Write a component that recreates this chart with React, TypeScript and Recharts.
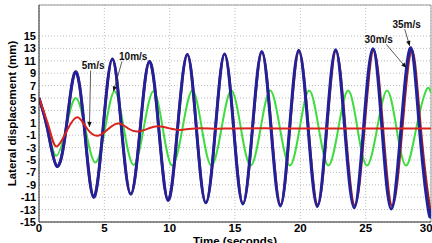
import React from 'react';
import { LineChart, Line, XAxis, YAxis, CartesianGrid, ReferenceLine, ReferenceDot } from 'recharts';

// 5 m/s (damped, red)
const t5 = [0, 0.8, 1.36, 2.2, 2.96, 3.7, 4.5, 5.3, 6.1, 6.9, 7.6, 8.4, 9.1, 10.0, 10.8, 12.0, 13.5, 15.0, 18.0, 21.0, 24.0, 27.0, 30.0];
const v5 = [5, 0, -2.8, 0, 1.9, 0, -1.1, 0, 0.9, 0, -0.4, 0.1, 0.45, 0.1, -0.15, 0.1, 0.05, 0.1, 0.1, 0.1, 0.1, 0.1, 0.1];

// 10 m/s (green)
const t10 = [0, 0.7, 1.3, 2.05, 2.8, 3.55, 4.3, 5.05, 5.78, 6.5, 7.25, 8.0, 8.76, 9.48, 10.2, 10.97, 11.74, 12.47, 13.2, 13.96, 14.72, 15.46, 16.2, 16.95, 17.7, 18.45, 19.2, 19.94, 20.68, 21.42, 22.15, 22.9, 23.66, 24.38, 25.1, 25.87, 26.64, 27.37, 28.1, 28.86, 29.62, 30];
const v10 = [5, 0, -4.3, 0, 5.0, 0, -5.4, 0, 6.1, 0, -5.8, 0, 6.1, 0, -5.9, 0, 6.2, 0, -5.9, 0, 6.2, 0, -5.9, 0, 6.2, 0, -5.9, 0, 6.2, 0, -5.9, 0, 6.2, 0, -5.9, 0, 6.2, 0, -5.9, 0, 6.2, 5.8];

// 30 m/s (dark red, mostly hidden under the 35 m/s curve)
const t30 = [0, 0.65, 1.36, 2.07, 2.78, 3.48, 4.18, 4.9, 5.62, 6.32, 7.03, 7.74, 8.45, 9.17, 9.88, 10.6, 11.35, 12.05, 12.77, 13.5, 14.2, 14.91, 15.61, 16.34, 17.06, 17.78, 18.49, 19.19, 19.9, 20.62, 21.33, 22.03, 22.73, 23.44, 24.17, 24.89, 25.61, 26.32, 27.03, 27.79, 28.53, 29.21, 29.9, 30];
const v30 = [5, 0, -6.0, 0, 9.2, 0, -11.0, 0, 11.3, 0, -10.5, 0, 10.9, 0, -11.5, 0, 12.0, 0, -11.9, 0, 12.1, 0, -12.0, 0, 12.4, 0, -12.2, 0, 12.5, 0, -12.2, 0, 12.6, 0, -12.3, 0, 12.7, 0, -12.4, 0, 12.8, 0, -12.6, -12.55];

// 35 m/s (blue)
const t35 = [0, 0.65, 1.36, 2.07, 2.78, 3.48, 4.18, 4.9, 5.62, 6.32, 7.03, 7.74, 8.45, 9.17, 9.88, 10.6, 11.35, 12.05, 12.77, 13.5, 14.2, 14.9, 15.6, 16.33, 17.05, 17.76, 18.47, 19.17, 19.88, 20.6, 21.3, 22.0, 22.7, 23.4, 24.12, 24.83, 25.55, 26.25, 26.95, 27.7, 28.45, 29.12, 29.8, 30];
const v35 = [5, 0, -6.0, 0, 9.2, 0, -11.0, 0, 11.3, 0, -10.5, 0, 10.9, 0, -11.5, 0, 12.0, 0, -11.9, 0, 12.1, 0, -12.1, 0, 12.5, 0, -12.4, 0, 12.7, 0, -12.5, 0, 12.8, 0, -12.7, 0, 12.95, 0, -12.9, 0, 13.1, 0, -13.1, -12.9];

const xTicks = [0, 5, 10, 15, 20, 25, 30];
const yTicks = [-15, -13, -11, -9, -7, -5, -3, -1, 1, 3, 5, 7, 9, 11, 13, 15];

// annotations (data coordinates)
const annText = ['5m/s', '10m/s', '30m/s', '35m/s'];
const annTextT = [4.14, 7.21, 26.0, 28.13];
const annTextV = [10.24, 11.7, 14.46, 16.8];
const annFromT = [3.95, 6.35, 26.58, 27.99];
const annFromV = [9.43, 10.9, 13.65, 16.1];
const annToT = [3.86, 5.7, 28.1, 28.37];
const annToV = [0.34, 6.07, 9.87, 13.4];

const toData = (t: number[], v: number[]) => t.map((x, i) => ({ t: x, v: v[i] }));
const d5 = toData(t5, v5);
const d10 = toData(t10, v10);
const d30 = toData(t30, v30);
const d35 = toData(t35, v35);

const ArrowShape = (p: any) => {
  const { x1, y1, x2, y2 } = p;
  if ([x1, y1, x2, y2].some((n) => typeof n !== 'number' || isNaN(n))) return null;
  const ang = Math.atan2(y2 - y1, x2 - x1);
  const L = 5;
  const W = 2.2;
  const bx = x2 - L * Math.cos(ang);
  const by = y2 - L * Math.sin(ang);
  const px = -Math.sin(ang) * W;
  const py = Math.cos(ang) * W;
  return (
    <g>
      <line x1={x1} y1={y1} x2={x2} y2={y2} stroke="#333" strokeWidth={0.8} />
      <polygon points={`${x2},${y2} ${bx + px},${by + py} ${bx - px},${by - py}`} fill="#111" />
    </g>
  );
};

const font = '"Liberation Sans", Arial, sans-serif';

export default function App() {
  return (
    <div style={{ position: 'absolute', left: 0, top: 0, width: 432, height: 243, background: '#fff' }}>
      <LineChart width={432} height={243} margin={{ top: 5, right: 1, bottom: 0, left: 0 }} style={{ fontFamily: font }}>
        <CartesianGrid strokeDasharray="1 2" stroke="#bdbdbd" />
        <XAxis
          type="number"
          dataKey="t"
          domain={[0, 30]}
          ticks={xTicks}
          allowDataOverflow
          height={21}
          tickSize={0}
          tickMargin={2}
          stroke="#222"
          tick={{ fill: '#000', fontSize: 11.5, fontWeight: 'bold', fontFamily: font }}
          label={{ value: 'Time (seconds)', position: 'insideBottom', offset: -2, style: { fontWeight: 'bold', fontSize: 11.5, fill: '#000', fontFamily: font } }}
        />
        <YAxis
          type="number"
          domain={[-15, 20]}
          ticks={yTicks}
          allowDataOverflow
          width={39}
          tickSize={0}
          tickMargin={3}
          interval={0}
          stroke="#222"
          tick={{ fill: '#000', fontSize: 11, fontWeight: 'bold', fontFamily: font }}
          label={{ value: 'Lateral displacement (mm)', angle: -90, position: 'insideLeft', offset: 12, style: { textAnchor: 'middle', fontWeight: 'bold', fontSize: 11.5, fill: '#000', fontFamily: font } }}
        />
        <ReferenceLine y={20} stroke="#999" strokeWidth={1} />
        <ReferenceLine x={30} stroke="#999" strokeWidth={1} />
        <Line data={d10} dataKey="v" type="natural" stroke="#3fdc3f" strokeWidth={2} dot={false} isAnimationActive={false} />
        <Line data={d30} dataKey="v" type="natural" stroke="#a3201c" strokeWidth={2.6} dot={false} isAnimationActive={false} />
        <Line data={d35} dataKey="v" type="natural" stroke="#21219c" strokeWidth={3} dot={false} isAnimationActive={false} />
        <Line data={d5} dataKey="v" type="natural" stroke="#d9231c" strokeWidth={2} dot={false} isAnimationActive={false} />
        {annText.map((txt, i) => (
          <ReferenceLine
            key={'a' + i}
            segment={[{ x: annFromT[i], y: annFromV[i] }, { x: annToT[i], y: annToV[i] }]}
            ifOverflow="visible"
            shape={ArrowShape}
          />
        ))}
        {annText.map((txt, i) => (
          <ReferenceDot
            key={'t' + i}
            x={annTextT[i]}
            y={annTextV[i]}
            r={0}
            ifOverflow="visible"
            shape={(p: any) => (
              <text x={p.cx} y={p.cy} textAnchor="middle" dominantBaseline="central" fontSize={10} fontWeight="bold" fontFamily={font} fill="#111">
                {txt}
              </text>
            )}
          />
        ))}
      </LineChart>
    </div>
  );
}
